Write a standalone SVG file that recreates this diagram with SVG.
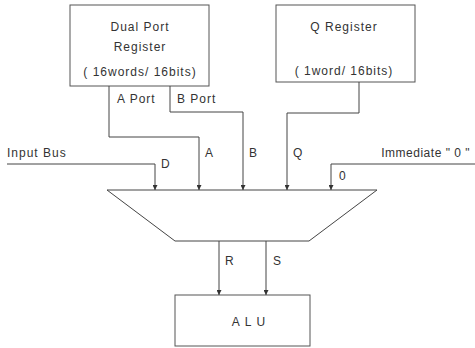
<svg xmlns="http://www.w3.org/2000/svg" width="475" height="348" viewBox="0 0 475 348">
<defs>
<marker id="ah" viewBox="0 0 6 6" refX="6" refY="3" markerWidth="5" markerHeight="5" orient="auto" markerUnits="userSpaceOnUse">
<path d="M0,0 L6,3 L0,6 Z" fill="#333"/>
</marker>
<style>
.box{fill:#fff;stroke:#555;stroke-width:1}
.w{fill:none;stroke:#444;stroke-width:1}
.a{fill:none;stroke:#444;stroke-width:1;marker-end:url(#ah)}
text{font-family:"Liberation Sans",Arial,sans-serif;font-size:12px;letter-spacing:1px;fill:#333}
.c{text-anchor:middle}
</style>
</defs>
<rect width="475" height="348" fill="#fff"/>
<g id="dual-port">
<rect class="box" x="70" y="5" width="139" height="81"/>
<text class="c" x="140" y="31">Dual Port</text>
<text class="c" x="140" y="51">Register</text>
<text class="c" x="140" y="76">( 16words/ 16bits)</text>
</g>
<g id="q-register">
<rect class="box" x="276" y="5" width="139" height="77"/>
<text class="c" x="344" y="31">Q Register</text>
<text class="c" x="344" y="75">( 1word/ 16bits)</text>
</g>
<g id="mux">
<path class="w" d="M107,190 L377,190 L309,241 L175,241 Z"/>
</g>
<g id="alu">
<rect class="box" x="175" y="295" width="135" height="51"/>
<text class="c" x="251" y="326" style="letter-spacing:5px">ALU</text>
</g>
<g id="connectors">
<path class="a" d="M7,164 L155,164 L155,190"/>
<path class="a" d="M109,86 L109,137 L199,137 L199,190"/>
<path class="a" d="M170,86 L170,112 L243,112 L243,190"/>
<path class="a" d="M359,82 L359,113 L287,113 L287,190"/>
<path class="a" d="M475,164 L331,164 L331,190"/>
<path class="a" d="M219,241 L219,295"/>
<path class="a" d="M266,241 L266,295"/>
</g>
<g id="labels">
<text x="7" y="157">Input Bus</text>
<text x="161" y="168">D</text>
<text x="117" y="103">A Port</text>
<text x="177" y="103">B Port</text>
<text x="205" y="157">A</text>
<text x="249" y="157">B</text>
<text x="293" y="157">Q</text>
<text x="470" y="157" style="text-anchor:end;letter-spacing:0.5px">Immediate " 0 "</text>
<text x="339" y="180">0</text>
<text x="225" y="265">R</text>
<text x="273" y="265">S</text>
</g>
</svg>
